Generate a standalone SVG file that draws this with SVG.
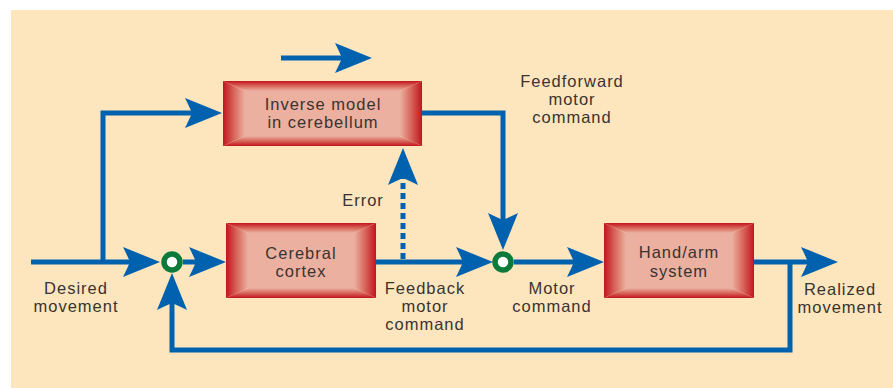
<svg xmlns="http://www.w3.org/2000/svg" width="893" height="388" viewBox="0 0 893 388">
<style>
.ln{fill:none;stroke:#0062AE;stroke-width:5;stroke-linejoin:miter;marker-end:url(#ah)}
.dash{stroke-dasharray:6 4}
.t{font-family:"Liberation Sans",Arial,sans-serif;font-size:16.5px;fill:#3a3330;text-anchor:middle;letter-spacing:1px}
.jn{fill:#fff;stroke:#0B7A3B;stroke-width:5.5}
.pk{fill:#EBB0A0}
</style>
<defs>
<marker id="ah" markerUnits="userSpaceOnUse" viewBox="-8 -16 40 32" markerWidth="40" markerHeight="32" refX="0" refY="0" orient="auto">
<path d="M30,0 L-7,-15 Q-3,-7 0,0 Q-3,7 -7,15 Z" fill="#0062AE"/>
</marker>
<linearGradient id="gT" x1="0" y1="0" x2="0" y2="1"><stop offset="0" stop-color="#C2141F"/><stop offset="0.5" stop-color="#D8665B"/><stop offset="1" stop-color="#EBB0A0"/></linearGradient>
<linearGradient id="gB" x1="0" y1="1" x2="0" y2="0"><stop offset="0" stop-color="#C2141F"/><stop offset="0.5" stop-color="#D8665B"/><stop offset="1" stop-color="#EBB0A0"/></linearGradient>
<linearGradient id="gL" x1="0" y1="0" x2="1" y2="0"><stop offset="0" stop-color="#C2141F"/><stop offset="0.5" stop-color="#D8665B"/><stop offset="1" stop-color="#EBB0A0"/></linearGradient>
<linearGradient id="gR" x1="1" y1="0" x2="0" y2="0"><stop offset="0" stop-color="#C2141F"/><stop offset="0.5" stop-color="#D8665B"/><stop offset="1" stop-color="#EBB0A0"/></linearGradient>
</defs>
<rect x="11" y="10" width="882" height="378" fill="#FDE5BD"/>
<g id="connectors">
<path class="ln" d="M281,58 H342"/>
<path class="ln" d="M31,262 H130"/>
<path class="ln" d="M103,262 V113 H192"/>
<path class="ln" d="M183,262 H196"/>
<path class="ln" d="M376,262 H463"/>
<path class="ln dash" d="M403,259 V178"/>
<path class="ln" d="M422,113 H503 V220"/>
<path class="ln" d="M514,262 H574"/>
<path class="ln" d="M754,262 H808"/>
<path class="ln" d="M790,262 V350 H172 V303"/>
</g>
<g id="inverse-model">
<rect class="pk" x="245" y="91" width="155" height="45"/>
<polygon fill="url(#gT)" points="223,81 422,81 400,91 245,91"/>
<polygon fill="url(#gB)" points="223,146 422,146 400,136 245,136"/>
<polygon fill="url(#gL)" points="223,81 245,91 245,136 223,146"/>
<polygon fill="url(#gR)" points="422,81 400,91 400,136 422,146"/>
<text class="t" x="323" y="110">Inverse model</text>
<text class="t" x="323" y="128">in cerebellum</text>
</g>
<g id="cerebral-cortex">
<rect class="pk" x="248" y="233" width="106" height="55"/>
<polygon fill="url(#gT)" points="226,223 376,223 354,233 248,233"/>
<polygon fill="url(#gB)" points="226,298 376,298 354,288 248,288"/>
<polygon fill="url(#gL)" points="226,223 248,233 248,288 226,298"/>
<polygon fill="url(#gR)" points="376,223 354,233 354,288 376,298"/>
<text class="t" x="301" y="259">Cerebral</text>
<text class="t" x="301" y="277">cortex</text>
</g>
<g id="hand-arm">
<rect class="pk" x="626" y="233" width="106" height="55"/>
<polygon fill="url(#gT)" points="604,223 754,223 732,233 626,233"/>
<polygon fill="url(#gB)" points="604,298 754,298 732,288 626,288"/>
<polygon fill="url(#gL)" points="604,223 626,233 626,288 604,298"/>
<polygon fill="url(#gR)" points="754,223 732,233 732,288 754,298"/>
<text class="t" x="679" y="258">Hand/arm</text>
<text class="t" x="679" y="277">system</text>
</g>
<g id="junction1"><circle class="jn" cx="172" cy="262" r="8"/></g>
<g id="junction2"><circle class="jn" cx="503" cy="262" r="8"/></g>
<g id="labels">
<text class="t" x="76" y="294">Desired</text>
<text class="t" x="76" y="312">movement</text>
<text class="t" x="572" y="87">Feedforward</text>
<text class="t" x="572" y="105">motor</text>
<text class="t" x="572" y="123">command</text>
<text class="t" x="363" y="206">Error</text>
<text class="t" x="425" y="294">Feedback</text>
<text class="t" x="425" y="312">motor</text>
<text class="t" x="425" y="330">command</text>
<text class="t" x="552" y="294">Motor</text>
<text class="t" x="552" y="312">command</text>
<text class="t" x="840" y="295">Realized</text>
<text class="t" x="840" y="313">movement</text>
</g>
</svg>
